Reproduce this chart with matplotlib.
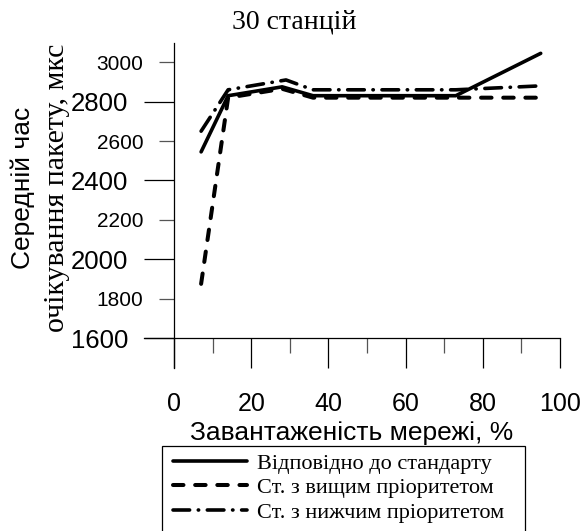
import matplotlib
matplotlib.use("Agg")
import matplotlib.pyplot as plt
from matplotlib.patches import Rectangle

# ---- data ----
load_std = [7, 14, 28, 36, 73, 95]
wait_std = [2545, 2830, 2875, 2830, 2830, 3045]
load_high = [7, 14, 28, 36, 73, 95]
wait_high = [1875, 2820, 2865, 2820, 2820, 2820]
load_low = [7, 14, 29, 36, 73, 95]
wait_low = [2650, 2860, 2910, 2860, 2860, 2880]

labels = ["Відповідно до стандарту", "Ст. з вищим пріоритетом", "Ст. з нижчим пріоритетом"]
title = "30 станцій"
ylabel1 = "Середній час"
ylabel2 = "очікування пакету, мкс"
xlabel = "Завантаженість мережі, %"

y_major = [1600, 2000, 2400, 2800]
y_minor = [1800, 2200, 2600, 3000]
x_major = [0, 20, 40, 60, 80, 100]
x_minor = [10, 30, 50, 70, 90]

SANS = "Liberation Sans"
SERIF = "Liberation Serif"

W, H = 580, 531
fig = plt.figure(figsize=(W / 100, H / 100), dpi=100)
ax = fig.add_axes([144 / W, 1 - 368 / H, 416 / W, (368 - 43.3) / H])
ax.set_xlim(-7.8, 100)
ax.set_ylim(1448, 3096)

lw = 2.6
ax.plot(load_std, wait_std, color="black", lw=lw, solid_capstyle="round", label=labels[0])
ax.plot(load_high, wait_high, color="black", lw=lw + 0.3, dashes=(2.6, 2.9),
        dash_capstyle="round", label=labels[1])
ax.plot(load_low, wait_low, color="black", lw=lw, dashes=(4.6, 2.4, 0.1, 2.4),
        dash_capstyle="round", label=labels[2])

for s in ("top", "right"):
    ax.spines[s].set_visible(False)
ax.spines["left"].set_position(("data", 0))
ax.spines["bottom"].set_position(("data", 1600))
for s in ("left", "bottom"):
    ax.spines[s].set_linewidth(0.9)

ax.set_yticks(y_major, [str(v) for v in y_major])
ax.set_yticks(y_minor, [str(v) for v in y_minor], minor=True)
ax.set_xticks(x_major, [str(v) for v in x_major])
ax.set_xticks(x_minor, minor=True)

ax.tick_params(axis="y", which="major", direction="out", length=21.6, width=0.9,
               labelsize=18.5, pad=11.5)
ax.tick_params(axis="y", which="minor", direction="out", length=10.8, width=0.9,
               labelsize=15, pad=11.5, color="#555555")
ax.tick_params(axis="x", which="major", direction="out", length=21.6, width=0.9,
               labelsize=18, pad=17)
ax.tick_params(axis="x", which="minor", direction="out", length=10.8, width=0.9,
               color="#555555")
for lab in ax.get_xticklabels() + ax.get_yticklabels() + ax.get_yticklabels(minor=True):
    lab.set_fontfamily(SANS)

fig.text(294 / W, 1 - 22 / H, title, ha="center", va="center", fontsize=20, family=SERIF)
fig.text(352 / W, 1 - 433 / H, xlabel, ha="center", va="center", fontsize=19, family=SANS)
fig.text(23 / W, 1 - 188 / H, ylabel1, ha="center", va="center", rotation=90,
         fontsize=19, family=SANS)
fig.text(57 / W, 1 - 188 / H, ylabel2, ha="center", va="center", rotation=90,
         fontsize=21.5, family=SERIF)

leg = fig.legend(loc="upper left", bbox_to_anchor=(173 / W, 1 - 453 / H),
                 frameon=False, borderpad=0, borderaxespad=0,
                 handlelength=3.35, handletextpad=0.42, labelspacing=0.18,
                 prop={"family": SERIF, "size": 16})
fig.patches.append(Rectangle((162 / W, -0.02), (525 - 162) / W, 0.02 + 1 - 446 / H,
                             transform=fig.transFigure, fill=False, edgecolor="black",
                             linewidth=0.9))

fig.savefig("out.png", dpi=100)
